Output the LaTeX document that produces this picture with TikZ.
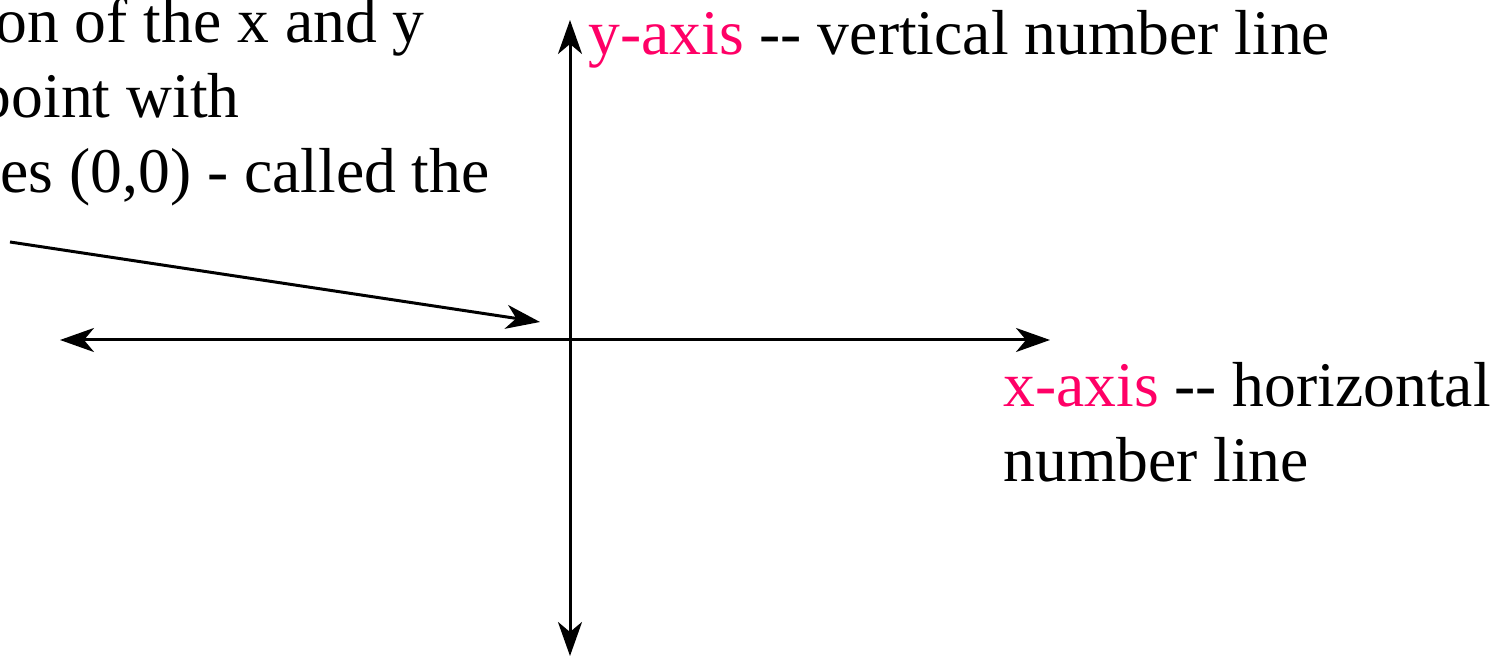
\documentclass[tikz,border=0pt]{standalone}
\usepackage{fontspec}
\setmainfont{Liberation Serif}
\usetikzlibrary{arrows.meta}
\definecolor{axispink}{HTML}{FF0066}

\begin{document}
\begin{tikzpicture}[x=0.5pt, y=-0.5pt,
	every node/.style={font=\fontsize{31.8}{37.5}\selectfont, inner sep=0pt},
	axisline/.style={line width=1.5pt, {Stealth[length=17pt, width=12pt, inset=5pt]}-{Stealth[length=17pt, width=12pt, inset=5pt]}},
	pointer/.style={line width=1.5pt, -{Stealth[length=17pt, width=12pt, inset=5pt]}}]
	\useasboundingbox (0,0) rectangle (1512,657);
	\clip (0,0) rectangle (1512,657);
	% axes
	\coordinate (xleft) at (60,340);
	\coordinate (xright) at (1050,340);
	\coordinate (ytop) at (570,20);
	\coordinate (ybottom) at (570,656);
	\draw[axisline] (xleft) -- (xright);
	\draw[axisline] (ybottom) -- (ytop);
	% pointer to the origin
	\coordinate (ptrstart) at (10,242);
	\coordinate (ptrend) at (540,322);
	\draw[pointer] (ptrstart) -- (ptrend);
	% labels
	\node[anchor=base west] (ylabel) at (588,55) {\textcolor{axispink}{y-axis} -{}- vertical number line};
	\node[anchor=base west] (xlabel) at (1003,407) {\textcolor{axispink}{x-axis} -{}- horizontal};
	\node[anchor=base west] (xlabelb) at (1003,482) {number line};
	\node[anchor=base east] (note1) at (425,43) {on of the x and y};
	\node[anchor=base east] (note2) at (240,118) {point with};
	\node[anchor=base east] (note3) at (490,193) {es (0,0) - called the};
\end{tikzpicture}
\end{document}
